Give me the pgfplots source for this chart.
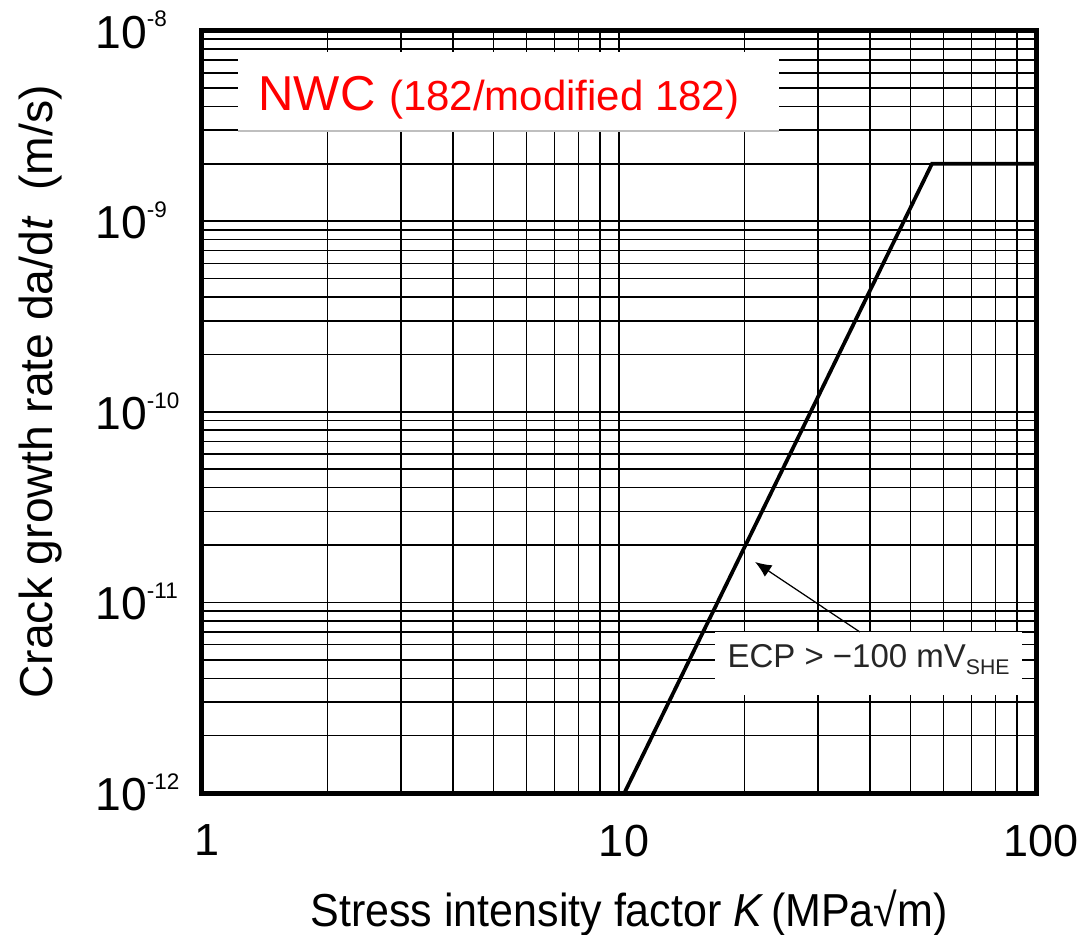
\documentclass[border=0pt]{standalone}
\usepackage{fontspec}
\setmainfont{Liberation Sans}
\usepackage{pgfplots}
\pgfplotsset{compat=1.18}
\usetikzlibrary{arrows.meta}

% 10^{-n} tick label set in the text font
\newcommand{\pw}[1]{10\raisebox{8.5pt}{\fontsize{9}{9}\selectfont -#1}}

\begin{document}
\begin{tikzpicture}
\begin{axis}[
    at={(0,0)}, anchor=south west,
    scale only axis,
    width=333.6pt, height=305pt,
    xmode=log, ymode=log,
    xmin=1, xmax=100, ymin=1e-12, ymax=1e-8,
    xtick={1,10,100}, xticklabels={1,10,100},
    ytick={1e-12,1e-11,1e-10,1e-9,1e-8},
    yticklabels={\pw{12},\pw{11},\pw{10},\pw{9},\pw{8}},
    grid=both,
    major grid style={black, line width=0.6pt},
    minor grid style={black, line width=0.6pt},
    axis line style={line width=2pt},
    major tick length=0pt, minor tick length=0pt,
    tick label style={font=\fontsize{18.5}{22}\selectfont, inner sep=0pt},
    yticklabel style={anchor=base west, xshift=-42.8pt, yshift=-7pt},
    xticklabel style={anchor=north, yshift=-12.5pt, xshift=2pt, font=\fontsize{18}{22}\selectfont},
    xlabel={\scalebox{0.93}[1]{Stress intensity factor \textit{K}\,(MPa√m)}},
    ylabel={Crack growth rate da/d\textit{t}~~(m/s)},
    every axis x label/.style={at={(axis description cs:0.512,-0.1744)}, anchor=base},
    every axis y label/.style={at={(axis description cs:-0.1787,0.526)}, rotate=90, anchor=base},
    label style={font=\fontsize{18.5}{22}\selectfont},
]
% label boxes
\fill[white] (rel axis cs:0.0432,0.8682) rectangle (rel axis cs:0.6918,0.9718);
\draw[gray!50, line width=0.5pt] (rel axis cs:0.0432,0.8682) -- (rel axis cs:0.6918,0.8682);
\fill[white] (rel axis cs:0.615,0.1285) rectangle (rel axis cs:0.983,0.2111);

\addplot[black, line width=1.5pt] coordinates {(10.3,1e-12) (56.3,2e-9) (100,2e-9)};

\node[anchor=base west, inner sep=0pt, text=red] at (rel axis cs:0.0671,0.8957)
  {\fontsize{19.6}{22}\selectfont NWC \fontsize{16.8}{20}\selectfont(182/modified 182)};

\draw[black, line width=0.5pt, -{Latex[length=6.5pt,width=5.5pt]}]
  (axis cs:37.8,7e-12) -- (axis cs:21.2,1.63e-11);
\node[anchor=base west, inner sep=0pt, text=black!85] at (rel axis cs:0.6295,0.164)
  {\fontsize{13.2}{15}\selectfont ECP > −100 mV\raisebox{-2.8pt}{\fontsize{8.5}{9}\selectfont SHE}};
\end{axis}
\pgfresetboundingbox
\path[use as bounding box] (-80.8pt,-56.8pt) rectangle (354.8pt,317.2pt);
\end{tikzpicture}
\end{document}
